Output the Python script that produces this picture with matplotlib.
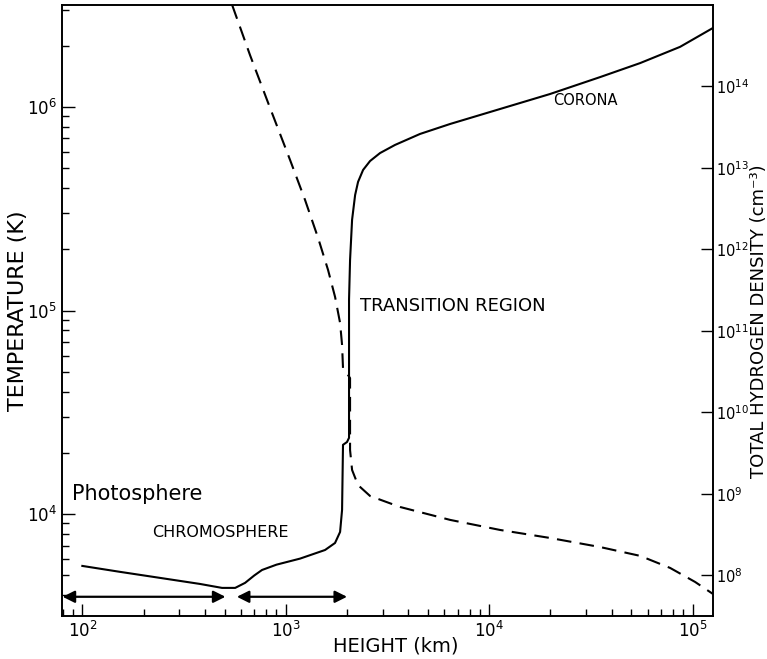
import matplotlib
matplotlib.use("Agg")
import matplotlib.pyplot as plt
from matplotlib.ticker import FixedLocator, NullLocator, NullFormatter

# temperature profile (solid line, left axis)
height_T = [100, 153, 241, 378, 486, 564, 631, 700, 764, 900, 1175, 1560, 1746,
            1849, 1891, 1911, 1999, 2046, 2046, 2046, 2070, 2118, 2192, 2266,
            2399, 2596, 2906, 3443, 4570, 6427, 9020, 12680, 19900, 35100,
            55200, 86700, 125900]
temperature = [5570, 5210, 4865, 4545, 4345, 4345, 4600, 5000, 5320, 5650, 6050,
               6670, 7220, 8180, 10500, 21900, 22600, 23700, 45600, 113000,
               177000, 279000, 369000, 428000, 490000, 542000, 593000, 650000,
               736000, 824000, 912000, 1010000, 1156000, 1400000, 1640000,
               1970000, 2440000]

# total hydrogen density (dashed line, right axis)
height_n = [545, 667, 837, 1050, 1244, 1442, 1614, 1747, 1849, 1891, 1911, 1977,
            2070, 2070, 2118, 2265, 2596, 3646, 6430, 11300, 19900, 35100, 55200,
            77500, 102800, 125900]
density = [1.0e15, 2.43e14, 5.45e13, 1.25e13, 4.04e12, 1.38e12, 5.58e11, 2.61e11,
           1.25e11, 6.71e10, 3.5e10, 3.13e10, 2.63e10, 3.45e9, 1.96e9, 1.28e9,
           9.4e8, 6.89e8, 4.78e8, 3.6e8, 2.87e8, 2.22e8, 1.73e8, 1.23e8, 8.28e7,
           5.89e7]
density_ticks = [1e8, 1e9, 1e10, 1e11, 1e12, 1e13, 1e14]

# region arrows: (start km, end km) at the bottom
region_spans = [(80, 505), (575, 2000)]
arrow_T = 3930

fig = plt.figure(figsize=(7.67, 6.59), dpi=100)
ax = fig.add_axes([62/767, 43/659, 651/767, 611/659])
ax.set_xscale("log")
ax.set_yscale("log")
ax.set_xlim(10**1.9, 10**5.1)
ax.set_ylim(10**3.5, 10**6.5)

ax.plot(height_T, temperature, color="black", lw=1.5)

for x0, x1 in region_spans:
    ax.annotate("", xy=(x1, arrow_T), xytext=(x0, arrow_T),
                arrowprops=dict(arrowstyle="<|-|>", color="black", lw=1.6,
                                mutation_scale=18, shrinkA=0, shrinkB=0))

ax.text(89, 12560, "Photosphere", fontsize=15, ha="left", va="center")
ax.text(220, 8090, "CHROMOSPHERE", fontsize=11.5, ha="left", va="center")
ax.text(2318, 1.05e5, "TRANSITION REGION", fontsize=13, ha="left", va="center")
ax.text(20600, 1.08e6, "CORONA", fontsize=10.5, ha="left", va="center")

ax.set_xlabel("HEIGHT (km)", fontsize=14)
ax.xaxis.set_label_coords(0.512, -0.034)
ax.set_ylabel("TEMPERATURE (K)", fontsize=16)
ax.yaxis.set_label_coords(-0.052, 0.5)
ax.yaxis.set_minor_formatter(NullFormatter())
ax.xaxis.set_minor_formatter(NullFormatter())
ax.tick_params(which="both", direction="in", top=False, right=False,
               labelsize=12, width=1)
ax.tick_params(which="major", length=9)
ax.tick_params(which="minor", length=5)

ax2 = ax.twinx()
ax2.set_yscale("log")
ax2.set_ylim(10**7.5, 1e15)
ax2.plot(height_n, density, color="black", lw=1.5, dashes=(7, 4))
ax2.yaxis.set_major_locator(FixedLocator(density_ticks))
ax2.yaxis.set_minor_locator(NullLocator())
ax2.tick_params(which="both", direction="in", labelsize=10.5, length=9, width=1,
                pad=2)
ax2.set_ylabel("TOTAL HYDROGEN DENSITY (cm\u207b\u00b3)", fontsize=13,
               va="baseline")
ax2.yaxis.set_label_coords(1.078, 0.483)

for a in (ax, ax2):
    for s in a.spines.values():
        s.set_linewidth(1.2)

fig.savefig("out.png", dpi=100)
